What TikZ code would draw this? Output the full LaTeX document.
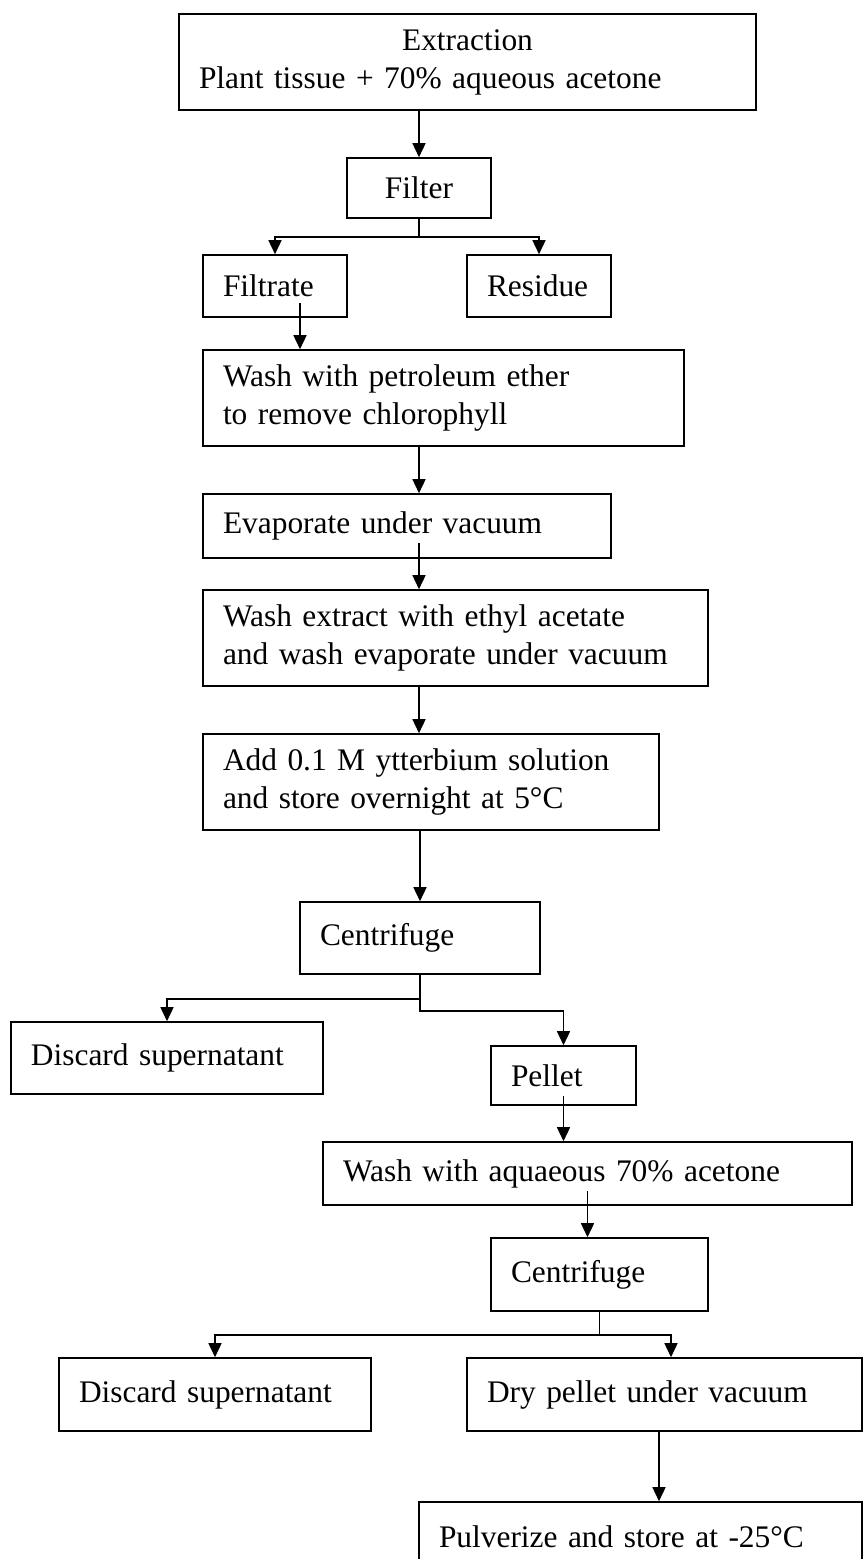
\documentclass[tikz,border=0pt]{standalone}
\usepackage{fontspec}
\setmainfont{Liberation Serif}
\usetikzlibrary{arrows.meta}

\begin{document}
\begin{tikzpicture}[
  x=0.5pt, y=0.5pt,
  font=\fontsize{15.7}{19}\selectfont,
  proc/.style={draw, line width=0.8pt, inner xsep=10pt, inner ysep=0pt, align=left},
  arr/.style={line width=0.75pt, -{Triangle[length=7pt,width=6.5pt]}}]
  \useasboundingbox (0,0) rectangle (865,-1559);
  \clip (0,0) rectangle (865,-1559);
  \node[proc, text width=268.5pt, minimum height=48pt] (extr) at (467.5,-62) {\makebox[\hsize]{Extraction}\\Plant tissue + 70\% aqueous acetone};
  \node[proc, minimum width=72pt, minimum height=30pt] (filter) at (419,-188) {Filter};
  \node[proc, text width=52pt, minimum height=31pt] (filtrate) at (275,-286) {Filtrate};
  \node[proc, text width=52pt, minimum height=31pt] (residue) at (539,-286) {Residue};
  \node[proc, text width=220.5pt, minimum height=48pt] (wpet) at (443.5,-398) {Wash with petroleum ether\\to remove chlorophyll};
  \node[proc, text width=184pt, minimum height=32pt] (evap) at (407,-526) {Evaporate under vacuum};
  \node[proc, text width=232.5pt, minimum height=48pt] (wext) at (455.5,-638) {Wash extract with ethyl acetate\\and wash evaporate under vacuum};
  \node[proc, text width=208pt, minimum height=48pt] (add) at (431,-782) {Add 0.1 M ytterbium solution\\and store overnight at 5°C};
  \node[proc, text width=100pt, minimum height=36pt] (cent1) at (420,-938) {Centrifuge};
  \node[proc, text width=136pt, minimum height=36pt] (disc1) at (167,-1058) {Discard supernatant};
  \node[proc, text width=52.5pt, minimum height=29.5pt] (pellet) at (563.5,-1075.5) {Pellet};
  \node[proc, text width=244.5pt, minimum height=31.5pt] (wacq) at (587.5,-1173.5) {Wash with aquaeous 70\% acetone};
  \node[proc, text width=88.5pt, minimum height=36.5pt] (cent2) at (599.5,-1274.5) {Centrifuge};
  \node[proc, text width=136pt, minimum height=36.5pt] (disc2) at (215,-1394.5) {Discard supernatant};
  \node[proc, text width=177.5pt, minimum height=36.5pt] (dry) at (664.5,-1394.5) {Dry pellet under vacuum};
  \node[proc, text width=201.5pt, minimum height=35pt] (pulv) at (640.5,-1537) {Pulverize and store at -25°C};
  \coordinate (fout) at ([xshift=12.5pt,yshift=7.5pt]filtrate.south);
  \coordinate (eout) at ([yshift=8pt]evap.south -| filter.south);
  \coordinate (pout) at ([yshift=5pt]pellet.south);
  \coordinate (wout) at ([yshift=7.5pt]wacq.south);
  \coordinate (dtop) at ([xshift=3.25pt]dry.north);
  \coordinate (dout) at ([xshift=-2.75pt]dry.south);
  \draw[arr] (extr.south -| filter.north) -- (filter.north);
  \draw[arr] (filter.south) -- ++(0,-18) -| (filtrate.north);
  \draw[arr] (filter.south) -- ++(0,-18) -| (residue.north);
  \draw[arr] (fout) -- (fout |- wpet.north);
  \draw[arr] (wpet.south -| filter.south) -- (evap.north -| filter.south);
  \draw[arr] (eout) -- (eout |- wext.north);
  \draw[arr] (wext.south -| filter.south) -- (add.north -| filter.south);
  \draw[arr] (add.south -| cent1.north) -- (cent1.north);
  \draw[arr] (cent1.south) -- ++(0,-24) -| (disc1.north);
  \draw[arr] (cent1.south) -- ++(0,-36) -| (pellet.north);
  \draw[arr] (pout) -- (pout |- wacq.north);
  \draw[arr] (wout) -- (wout |- cent2.north);
  \draw[arr] (cent2.south) -- ++(0,-23) -| (disc2.north);
  \draw[arr] (cent2.south) -- ++(0,-23) -| (dtop);
  \draw[arr] (dout) -- (dout |- pulv.north);
\end{tikzpicture}
\end{document}
